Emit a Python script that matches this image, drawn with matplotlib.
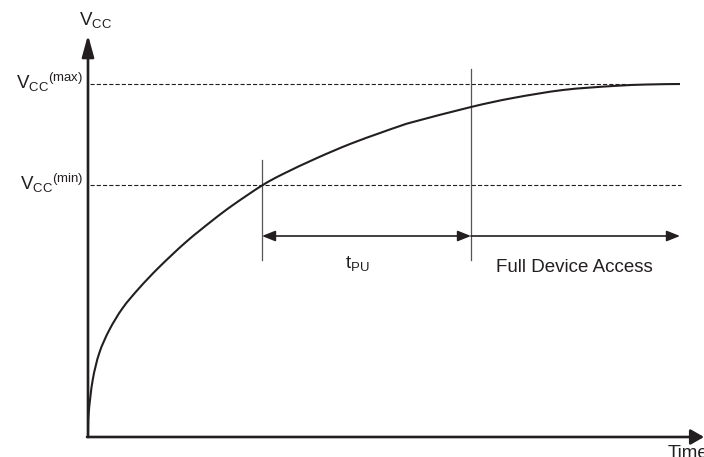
import matplotlib
matplotlib.use("Agg")
import matplotlib.pyplot as plt
from matplotlib.patches import FancyArrowPatch, PathPatch
from matplotlib.path import Path

plt.rcParams["font.family"] = ["Liberation Sans", "DejaVu Sans"]
plt.rcParams["mathtext.fontset"] = "custom"
plt.rcParams["mathtext.rm"] = "Liberation Sans"
plt.rcParams["mathtext.it"] = "Liberation Sans:italic"
plt.rcParams["lines.scale_dashes"] = False

# curve (time, Vcc) in arbitrary units
tempo = [0, 0.7, 4.7, 11.3, 21.3, 34.7, 51.3, 71.3, 98, 125, 145, 174, 195,
         229, 262, 292, 312, 325, 383, 425, 475, 525, 559, 592]
vcc = [0, 24, 57, 84, 107, 129, 149, 170, 195, 217, 232, 251.5, 263,
       279, 293, 304, 311, 315, 330, 339, 347, 351, 352.5, 353]

vcc_min = 252
vcc_max = 353
t_inicio = 174      # Vcc reaches Vcc(min)
t_acesso = 383      # end of tPU
t_fim = 592
nivel_seta = 201

rotulo_top = r"V$_{\rm CC}$"
rotulo_max = r"V$_{\rm CC}{}^{\rm (max)}$"
rotulo_min = r"V$_{\rm CC}{}^{\rm (min)}$"
rotulo_tpu = r"t$_{\rm PU}$"
rotulo_full = "Full Device Access"
rotulo_tempo = "Time"

cor = "#231f20"
cinza = "#555555"

fig = plt.figure(figsize=(7.04, 4.57), dpi=100)
ax = fig.add_axes([0, 0, 1, 1])
ax.set_xlim(-88, 616)
ax.set_ylim(-20, 437)
ax.axis("off")


def seta(ax, a, b, estilo, lw, hl, hw):
    p = FancyArrowPatch(a, b, arrowstyle=f"{estilo},head_length={hl},head_width={hw}",
                        mutation_scale=1, shrinkA=0, shrinkB=0,
                        color=cor, lw=lw, zorder=5)
    ax.add_patch(p)


def curva_suave(xs, ys):
    # smooth bezier path through the read points
    pts = list(zip(xs, ys))
    n = len(pts)
    verts = [pts[0]]
    codes = [Path.MOVETO]
    for i in range(n - 1):
        p0 = pts[max(i - 1, 0)]
        p1 = pts[i]
        p2 = pts[i + 1]
        p3 = pts[min(i + 2, n - 1)]
        c1 = (p1[0] + (p2[0] - p0[0]) / 6, p1[1] + (p2[1] - p0[1]) / 6)
        c2 = (p2[0] - (p3[0] - p1[0]) / 6, p2[1] - (p3[1] - p1[1]) / 6)
        verts += [c1, c2, p2]
        codes += [Path.CURVE4] * 3
    return Path(verts, codes)


# eixos
seta(ax, (0, 0), (0, 402), "-|>", 1.9, 13, 3.6)
seta(ax, (-1, 0), (616, 0), "-|>", 1.9, 8, 4.6)

# linhas tracejadas
ax.plot([2, 540], [vcc_max, vcc_max], color=cor, lw=0.8, dashes=(3.0, 1.5), zorder=1)
ax.plot([2, t_fim + 1], [vcc_min, vcc_min], color=cor, lw=0.8, dashes=(3.0, 1.5), zorder=1)

# curva
ax.add_patch(PathPatch(curva_suave(tempo, vcc), fill=False, edgecolor=cor,
                       lw=1.5, zorder=4, capstyle="butt"))

# linhas verticais
ax.plot([t_inicio, t_inicio], [177, 277], color=cinza, lw=0.9, zorder=3)
ax.plot([t_acesso, t_acesso], [177, 368], color=cinza, lw=0.9, zorder=3)

# setas horizontais
seta(ax, (t_inicio, nivel_seta), (t_acesso, nivel_seta), "<|-|>", 1.2, 8, 3.2)
seta(ax, (t_acesso, nivel_seta), (t_fim, nivel_seta), "-|>", 1.2, 8, 3.2)

fs = 13.5
ax.text(-9, 412, rotulo_top, fontsize=fs, color=cor, ha="left", va="baseline")
ax.text(-5, 348, rotulo_max, fontsize=fs, color=cor, ha="right", va="baseline")
ax.text(-5, 247, rotulo_min, fontsize=fs, color=cor, ha="right", va="baseline")
ax.text(269, 169, rotulo_tpu, fontsize=fs, color=cor, ha="center", va="baseline")
ax.text(486, 165, rotulo_full, fontsize=fs, color=cor, ha="center", va="baseline")
ax.text(580, -8, rotulo_tempo, fontsize=fs, color=cor, ha="left", va="top")

fig.savefig("out.png", dpi=100)
